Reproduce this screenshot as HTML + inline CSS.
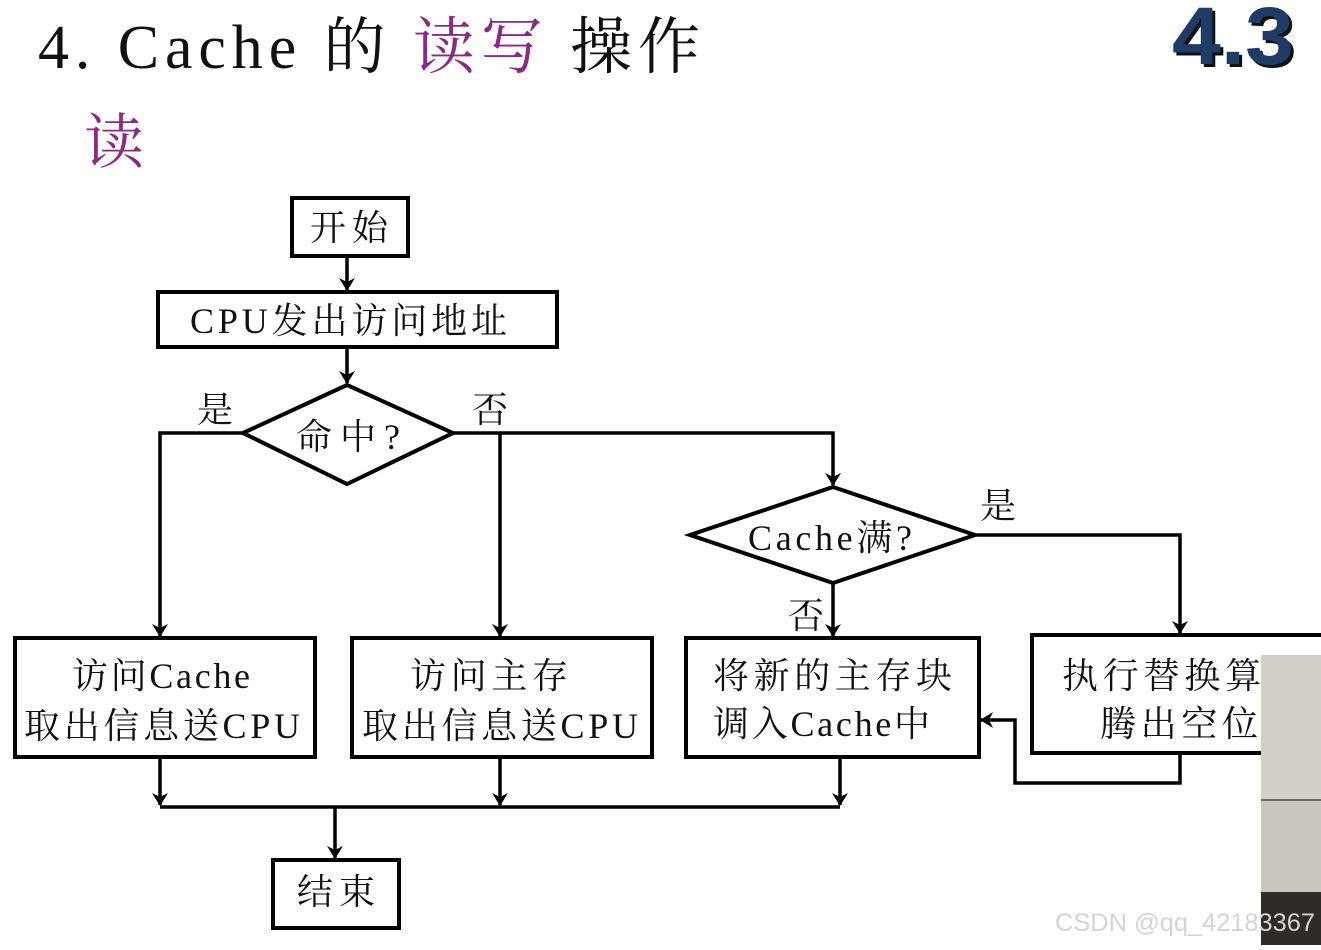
<!DOCTYPE html>
<html><head><meta charset="utf-8"><style>
body{margin:0;background:#fff;width:1321px;height:945px;overflow:hidden}
svg text{font-family:"Liberation Serif","Noto Serif CJK SC",serif;fill:#111}
</style></head><body>
<svg width="1321" height="945" viewBox="0 0 1321 945" xmlns="http://www.w3.org/2000/svg">
<defs><marker id="a" markerWidth="14" markerHeight="16" refX="12" refY="8" orient="auto" markerUnits="userSpaceOnUse"><path d="M0,0 L13,8 L0,16 L4,8 Z" fill="#000"/></marker></defs>
<text x="38" y="68" font-size="62" textLength="662" lengthAdjust="spacing">4. Cache 的 <tspan fill="#8a2a86">读写</tspan> 操作</text>
<text x="1172" y="64" font-size="82" font-weight="bold" style="font-family:'Liberation Sans',sans-serif" fill="#888" transform="translate(3,3)" textLength="122" lengthAdjust="spacingAndGlyphs">4.3</text>
<text x="1172" y="64" font-size="82" font-weight="bold" style="font-family:'Liberation Sans',sans-serif;fill:#1f3b66" textLength="122" lengthAdjust="spacingAndGlyphs">4.3</text>
<text x="84" y="163" font-size="60" style="fill:#8a2a86">读</text>
<g fill="none" stroke="#000" stroke-width="4">
<rect x="292" y="198" width="116" height="58"/>
<rect x="158" y="292" width="399" height="55"/>
<polygon points="243,433 347,385 453,433 347,484"/>
<polygon points="690,535 833,487 975,535 833,583"/>
<rect x="15" y="638" width="300" height="119"/>
<rect x="352" y="638" width="300" height="119"/>
<rect x="686" y="638" width="293" height="119"/>
<rect x="1032" y="635" width="300" height="118"/>
<rect x="273" y="860" width="126" height="68"/>
</g>
<g fill="none" stroke="#000" stroke-width="3.5">
<path d="M347 256 V290" marker-end="url(#a)"/>
<path d="M347 347 V383" marker-end="url(#a)"/>
<path d="M243 433 H160 V636" marker-end="url(#a)"/>
<path d="M453 433 H833 V485" marker-end="url(#a)"/>
<path d="M500 433 V636" marker-end="url(#a)"/>
<path d="M975 535 H1180 V633" marker-end="url(#a)"/>
<path d="M833 583 V636" marker-end="url(#a)"/>
<path d="M1180 753 V783 H1015 V720 H981" marker-end="url(#a)"/>
<path d="M160 757 V805" marker-end="url(#a)"/>
<path d="M500 757 V805" marker-end="url(#a)"/>
<path d="M840 757 V805" marker-end="url(#a)"/>
<path d="M160 807 H840"/>
<path d="M335 807 V858" marker-end="url(#a)"/>
</g>
<g font-size="36">
<text x="310" y="240" textLength="78" lengthAdjust="spacing">开始</text>
<text x="190" y="333" textLength="317" lengthAdjust="spacing">CPU发出访问地址</text>
<text x="296" y="449" textLength="104" lengthAdjust="spacing">命中?</text>
<text x="748" y="550" textLength="164" lengthAdjust="spacing">Cache满?</text>
<text x="197" y="422">是</text>
<text x="472" y="422">否</text>
<text x="980" y="518">是</text>
<text x="788" y="628">否</text>
<text x="72" y="688" textLength="178" lengthAdjust="spacing">访问Cache</text>
<text x="24" y="738" textLength="276" lengthAdjust="spacing">取出信息送CPU</text>
<text x="410" y="688" textLength="158" lengthAdjust="spacing">访问主存</text>
<text x="362" y="738" textLength="276" lengthAdjust="spacing">取出信息送CPU</text>
<text x="713" y="688" textLength="239" lengthAdjust="spacing">将新的主存块</text>
<text x="713" y="736" textLength="217" lengthAdjust="spacing">调入Cache中</text>
<text x="1062" y="688" textLength="240" lengthAdjust="spacing">执行替换算法</text>
<text x="1100" y="736" textLength="158" lengthAdjust="spacing">腾出空位</text>
<text x="297" y="904" textLength="78" lengthAdjust="spacing">结束</text>
</g>
<rect x="1261" y="655" width="60" height="290" fill="#c9c5bf"/>
<rect x="1261" y="655" width="60" height="145" fill="#d2cec8"/>
<line x1="1261" y1="800" x2="1321" y2="800" stroke="#6e6a64" stroke-width="2"/>
<rect x="1261" y="892" width="60" height="53" fill="#2f2b27"/>
<text x="1055" y="931" font-size="25" style="font-family:'Liberation Sans',sans-serif;fill:#d4d4d4" textLength="260" lengthAdjust="spacingAndGlyphs">CSDN @qq_42183367</text>
</svg>
</body></html>
